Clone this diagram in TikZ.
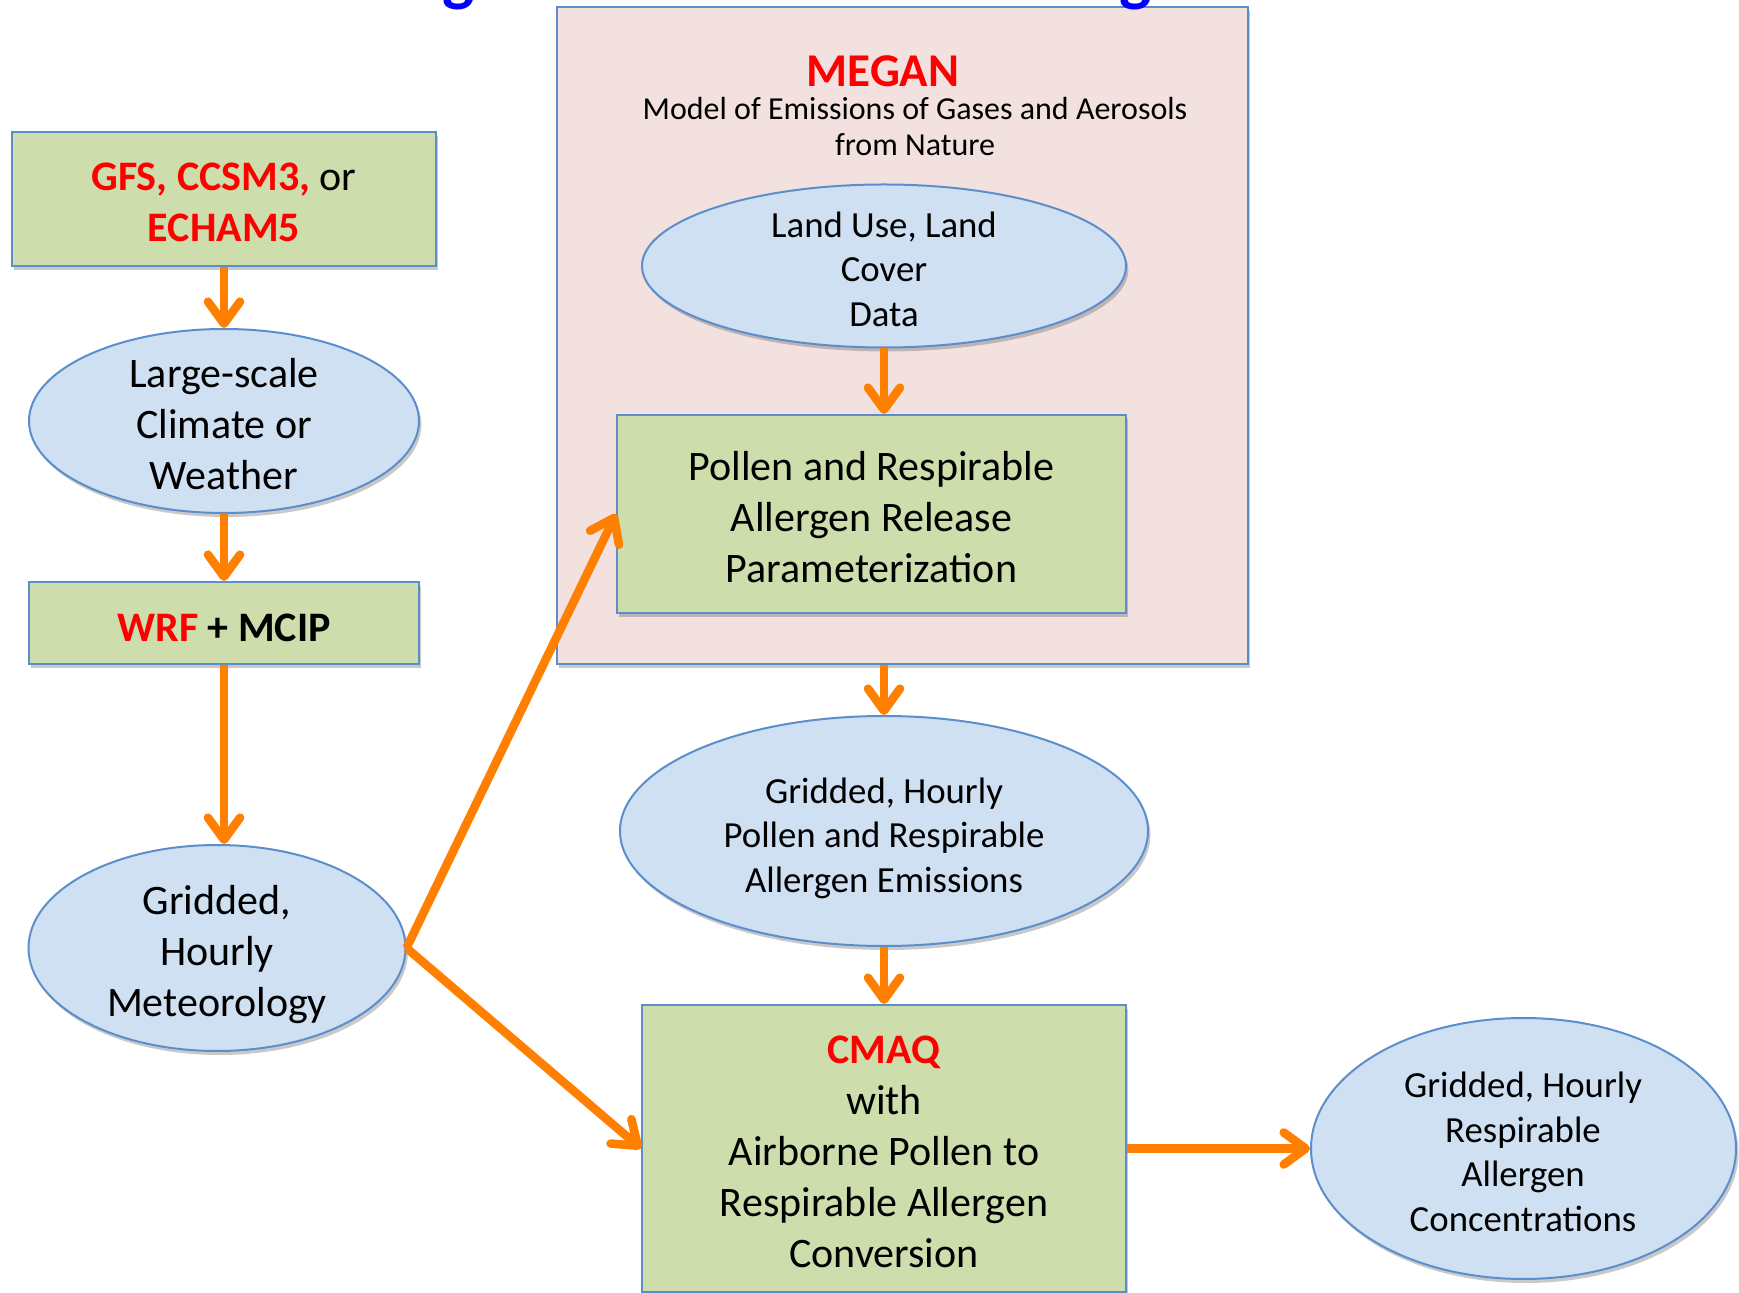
\documentclass[tikz,border=0pt]{standalone}
\usepackage{fontspec}
\setmainfont{Carlito}
\usetikzlibrary{arrows.meta,shapes.geometric,shadows}
\definecolor{boxgreen}{RGB}{205,221,171}
\definecolor{ellblue}{RGB}{207,224,243}
\definecolor{megpink}{RGB}{243,225,224}
\definecolor{edgeblue}{RGB}{92,142,203}
\definecolor{arrorange}{RGB}{255,128,0}
\definecolor{titleblue}{RGB}{0,0,255}
\definecolor{kwred}{RGB}{255,0,0}
\tikzset{
  shad/.style={drop shadow={shadow xshift=1.2pt,shadow yshift=-2pt,opacity=0.3,fill=black!70}},
  gbox/.style={draw=edgeblue,line width=1pt,fill=boxgreen,shad,inner sep=0pt},
  bell/.style={ellipse,draw=edgeblue,line width=1pt,fill=ellblue,shad,inner sep=0pt},
  bigtxt/.style={align=center,inner sep=0pt,font=\fontsize{21}{25.5}\selectfont},
  smtxt/.style={align=center,inner sep=0pt,font=\fontsize{18.4}{22.3}\selectfont},
  flow/.style={draw=arrorange,line width=4.3pt,-{Straight Barb[length=11pt,width=16pt,line cap=round,line join=round]}},
  desc/.style={font=\fontsize{34}{34}\selectfont\bfseries,text=titleblue,anchor=base,inner sep=0pt}
}
\begin{document}
\begin{tikzpicture}[x=0.5pt,y=-0.5pt]
\useasboundingbox (0,0) rectangle (1739,1293);
% MEGAN container
\node[draw=edgeblue,line width=1pt,fill=megpink,shad,minimum width=345.5pt,minimum height=328.5pt,inner sep=0pt] (megan) at (902.5,335.5) {};
\node[font=\fontsize{23.5}{28}\selectfont\bfseries,text=kwred,inner sep=0pt] (megant) at (883,71) {MEGAN};
\node[font=\fontsize{16}{18}\selectfont,align=center,inner sep=0pt] (megand) at (915,127) {Model of Emissions of Gases and Aerosols\\from Nature};
% left column
\node[gbox,minimum width=212pt,minimum height=67pt] (gfs) at (224,199) {};
\node[bigtxt] (gfst) at (224,202.5) {{\bfseries\color{kwred}GFS, CCSM3,} or\\{\bfseries\color{kwred}ECHAM5}};
\node[bell,minimum width=195pt,minimum height=92pt] (ls) at (224,421) {};
\node[bigtxt] (lst) at (224,424) {Large-scale\\Climate or\\Weather};
\node[gbox,minimum width=195pt,minimum height=41pt] (wrf) at (224,623) {};
\node[bigtxt] (wrft) at (224,627.5) {\bfseries{\color{kwred}WRF} + MCIP};
\node[bell,minimum width=188.5pt,minimum height=103pt] (met) at (217,948) {};
\node[bigtxt] (mett) at (217,955) {Gridded,\\Hourly\\Meteorology};
% middle column
\node[bell,minimum width=242pt,minimum height=81.5pt] (lu) at (884,266) {};
\node[smtxt] (lut) at (884,269) {Land Use, Land\\Cover\\Data};
\node[gbox,minimum width=254.5pt,minimum height=99pt] (pr) at (871.5,514) {};
\node[bigtxt] (prt) at (871.5,517) {Pollen and Respirable\\Allergen Release\\Parameterization};
\node[bell,minimum width=264pt,minimum height=115pt] (gp) at (884,831) {};
\node[smtxt] (gpt) at (884,838) {Gridded, Hourly\\Pollen and Respirable\\Allergen Emissions};
\node[gbox,minimum width=242pt,minimum height=143.5pt] (cmaq) at (884,1148.5) {};
\node[bigtxt] (cmaqt) at (884,1152) {{\bfseries\color{kwred}CMAQ}\\with\\Airborne Pollen to\\Respirable Allergen\\Conversion};
% right
\node[bell,minimum width=212.5pt,minimum height=130.5pt] (rc) at (1523.5,1148.5) {};
\node[smtxt] (rct) at (1523,1152) {Gridded, Hourly\\Respirable\\Allergen\\Concentrations};
% cut-off title descenders
\node[desc] (tg1) at (459,-1) {g};
\node[desc] (tg2) at (1136,-1) {g};
% connectors
\draw[flow] (gfs.south) -- (ls.north);
\draw[flow] (ls.south) -- (wrf.north);
\draw[flow] (wrf.south) -- (wrf.south |- met.north);
\draw[flow] (lu.south) -- (lu.south |- pr.north);
\draw[flow] (gp.north |- megan.south) -- (gp.north);
\draw[flow] (gp.south) -- (cmaq.north);
\draw[flow] (cmaq.east) -- (rc.west);
\draw[flow] (met.east) -- (pr.west);
\draw[flow] (met.east) -- (cmaq.west);
\end{tikzpicture}
\end{document}
